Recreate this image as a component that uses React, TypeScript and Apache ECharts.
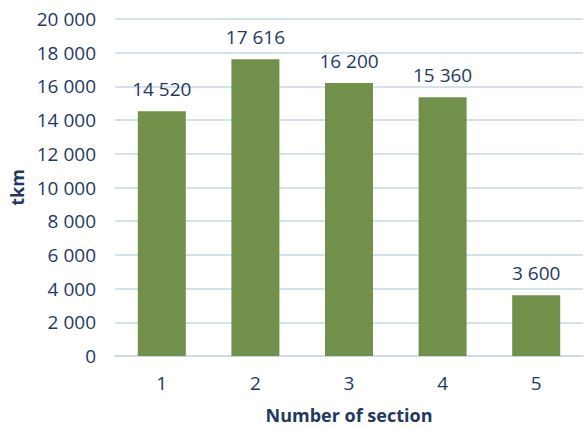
import React, { useEffect, useRef } from "react";
import * as echarts from "echarts";

const categories = ["1", "2", "3", "4", "5"];
const values = [14520, 17616, 16200, 15360, 3600];
const yTicks = [0, 2000, 4000, 6000, 8000, 10000, 12000, 14000, 16000, 18000, 20000];

const TEXT = "#1F3864";
const FONT = "Open Sans";
const FS = 19;
const fmt = (v: number) => String(v).replace(/\B(?=(\d{3})+(?!\d))/g, " ");

export default function App() {
  const ref = useRef<HTMLDivElement>(null);
  useEffect(() => {
    const chart = echarts.init(ref.current!, null, { renderer: "svg" });
    chart.setOption({
      animation: false,
      grid: { left: 115, right: 1, top: 19, bottom: 72, containLabel: false, outerBoundsMode: "none" },
      xAxis: {
        type: "category",
        data: categories,
        name: "Number of section",
        nameLocation: "middle",
        nameGap: 50,
        nameTextStyle: { color: TEXT, fontFamily: FONT, fontSize: 18, fontWeight: "bold", lineHeight: 18 },
        axisLine: { show: true, lineStyle: { color: "#C5D8EA", width: 1.5 } },
        axisTick: { show: false },
        axisLabel: { color: TEXT, fontFamily: FONT, fontSize: FS, margin: 17 },
      },
      yAxis: {
        type: "value",
        min: yTicks[0],
        max: yTicks[yTicks.length - 1],
        interval: 2000,
        name: "tkm",
        nameLocation: "middle",
        nameGap: 87,
        nameRotate: 90,
        nameTextStyle: { color: TEXT, fontFamily: FONT, fontSize: 18, fontWeight: "bold" },
        axisLine: { show: false },
        axisTick: { show: false },
        axisLabel: { color: TEXT, fontFamily: FONT, fontSize: FS, margin: 19, formatter: (v: number) => fmt(v) },
        splitLine: { show: true, lineStyle: { color: "#C5D8EA", width: 1.5 } },
      },
      series: [
        {
          type: "bar",
          data: values,
          barWidth: 48,
          itemStyle: { color: "#71904A" },
          label: {
            show: true,
            position: "top",
            distance: 13,
            color: TEXT,
            fontFamily: FONT,
            fontSize: FS,
            formatter: (p: any) => fmt(p.value),
          },
        },
      ],
    });
    return () => chart.dispose();
  }, []);
  return <div ref={ref} style={{ width: 584, height: 428, position: "absolute", left: 0, top: 0 }} />;
}
